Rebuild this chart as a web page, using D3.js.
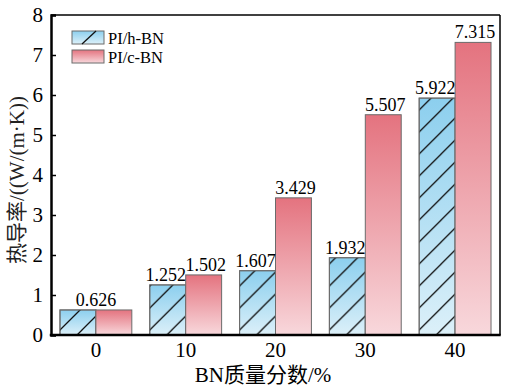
<!DOCTYPE html>
<html>
<head>
<meta charset="utf-8">
<script src="https://cdn.jsdelivr.net/npm/d3@7"></script>
<style>
  body { margin: 0; background: #fff; }
</style>
</head>
<body>
<div id="chart"></div>
<script>
const categories = ['0', '10', '20', '30', '40']
const hBN = [0.626, 1.252, 1.607, 1.932, 5.922]
const cBN = [0.626, 1.502, 3.429, 5.507, 7.315]
const seriesNames = ['PI/h-BN', 'PI/c-BN']
const yTicks = [0, 1, 2, 3, 4, 5, 6, 7, 8]

const W = 505, H = 388
const M = { LEFT: 51, RIGHT: 5, TOP: 15, BOTTOM: 53 }
const serif = "'Liberation Serif', 'Times New Roman', Times, 'DejaVu Serif', serif"
const cjk = "'Liberation Serif', 'Times New Roman', 'Noto Sans CJK SC', serif"

const svg = d3.select('#chart').append('svg')
  .attr('width', W).attr('height', H)

const defs = svg.append('defs')
function grad(id, top, bottom) {
  const g = defs.append('linearGradient').attr('id', id)
    .attr('x1', 0).attr('y1', 0).attr('x2', 0).attr('y2', 1)
  g.append('stop').attr('offset', '0%').attr('stop-color', top)
  g.append('stop').attr('offset', '100%').attr('stop-color', bottom)
}
grad('gBlue', '#8ccfee', '#dcf0f9')
grad('gRed', '#e4737f', '#f8d8dc')

// diagonal hatch
const pat = defs.append('pattern').attr('id', 'hatch')
  .attr('patternUnits', 'userSpaceOnUse').attr('width', 22).attr('height', 22)
pat.append('path')
  .attr('d', 'M-2,24 L24,-2 M-13,13 L13,-13 M9,35 L35,9')
  .attr('stroke', '#111').attr('stroke-width', 1.3)

const x0 = d3.scaleBand().domain(categories)
  .range([M.LEFT, W - M.RIGHT]).paddingInner(0.2).paddingOuter(0.1)
const x1 = d3.scaleBand().domain([0, 1]).range([0, x0.bandwidth()])
const y = d3.scaleLinear().domain([0, 8]).range([H - M.BOTTOM, M.TOP])

const fills = ['url(#gBlue)', 'url(#gRed)']

// bars
const groups = svg.append('g').selectAll('g')
  .data(categories)
  .join('g')
  .attr('transform', d => `translate(${x0(d)},0)`)

groups.each(function (c, i) {
  const g = d3.select(this)
  const vals = [hBN[i], cBN[i]]
  vals.forEach((v, s) => {
    g.append('rect')
      .attr('x', x1(s)).attr('y', y(v))
      .attr('width', x1.bandwidth()).attr('height', y(0) - y(v))
      .attr('fill', fills[s])
      .attr('stroke', '#6b6b6b').attr('stroke-width', 1)
    if (s === 0) {
      g.append('rect')
        .attr('x', x1(s)).attr('y', y(v))
        .attr('width', x1.bandwidth()).attr('height', y(0) - y(v))
        .attr('fill', 'url(#hatch)')
        .attr('stroke', '#6b6b6b').attr('stroke-width', 1)
    }
  })
  // value labels
  if (hBN[i] === cBN[i]) {
    g.append('text')
      .attr('x', x0.bandwidth() / 2).attr('y', y(hBN[i]) - 4)
      .attr('text-anchor', 'middle')
      .style('font-family', serif).style('font-size', '18px')
      .text(hBN[i].toFixed(3))
  } else {
    vals.forEach((v, s) => {
      g.append('text')
        .attr('x', x1(s) + x1.bandwidth() / 2 + (s === 0 ? -2 : 2))
        .attr('y', y(v) - 4)
        .attr('text-anchor', 'middle')
        .style('font-family', serif).style('font-size', '18px')
        .text(v.toFixed(3))
    })
  }
})

// frame
svg.append('line')
  .attr('x1', M.LEFT).attr('x2', W - M.RIGHT).attr('y1', M.TOP).attr('y2', M.TOP)
  .attr('stroke', '#000').attr('stroke-width', 1.5)
svg.append('line')
  .attr('x1', W - M.RIGHT).attr('x2', W - M.RIGHT).attr('y1', M.TOP).attr('y2', y(0))
  .attr('stroke', '#000').attr('stroke-width', 1.5)

// y axis (ticks inward)
const yAxis = svg.append('g')
  .attr('transform', `translate(${M.LEFT},0)`)
  .call(d3.axisLeft(y).tickValues(yTicks).tickSize(-5).tickPadding(8).tickFormat(d3.format('d')))
yAxis.select('.domain').attr('stroke-width', 2.5)
yAxis.selectAll('.tick line').attr('stroke-width', 1.5)
yAxis.selectAll('text')
  .style('font-family', serif).style('font-size', '21px').attr('fill', '#000')

// x axis
const xAxis = svg.append('g')
  .attr('transform', `translate(0,${y(0)})`)
  .call(d3.axisBottom(x0).tickSize(0).tickPadding(7))
xAxis.select('.domain').attr('stroke-width', 2.5)
  .attr('d', `M${M.LEFT - 1.25},0H${W - M.RIGHT + 0.75}`)
xAxis.selectAll('text')
  .style('font-family', serif).style('font-size', '21px').attr('fill', '#000')

// axis titles
svg.append('text')
  .attr('x', 263).attr('y', 382)
  .attr('text-anchor', 'middle')
  .style('font-family', cjk).style('font-size', '21px')
  .text('BN质量分数/%')

svg.append('text')
  .attr('transform', 'translate(24,180) rotate(-90)')
  .attr('text-anchor', 'middle')
  .style('font-family', cjk).style('font-size', '21px').attr('fill', '#222')
  .text('热导率/((W/(m·K))')

// legend
const legend = svg.append('g').attr('transform', 'translate(72,31)')
seriesNames.forEach((name, i) => {
  const row = legend.append('g').attr('transform', `translate(0,${i * 19})`)
  row.append('rect').attr('width', 32).attr('height', 13)
    .attr('fill', fills[i]).attr('stroke', '#6b6b6b')
  if (i === 0) {
    row.append('path').attr('d', 'M10,13 L24,0').attr('stroke', '#111').attr('stroke-width', 1.3)
  }
  row.append('text').attr('x', 36).attr('y', 12.5)
    .style('font-family', serif).style('font-size', '16.5px')
    .text(name)
})
</script>
</body>
</html>
